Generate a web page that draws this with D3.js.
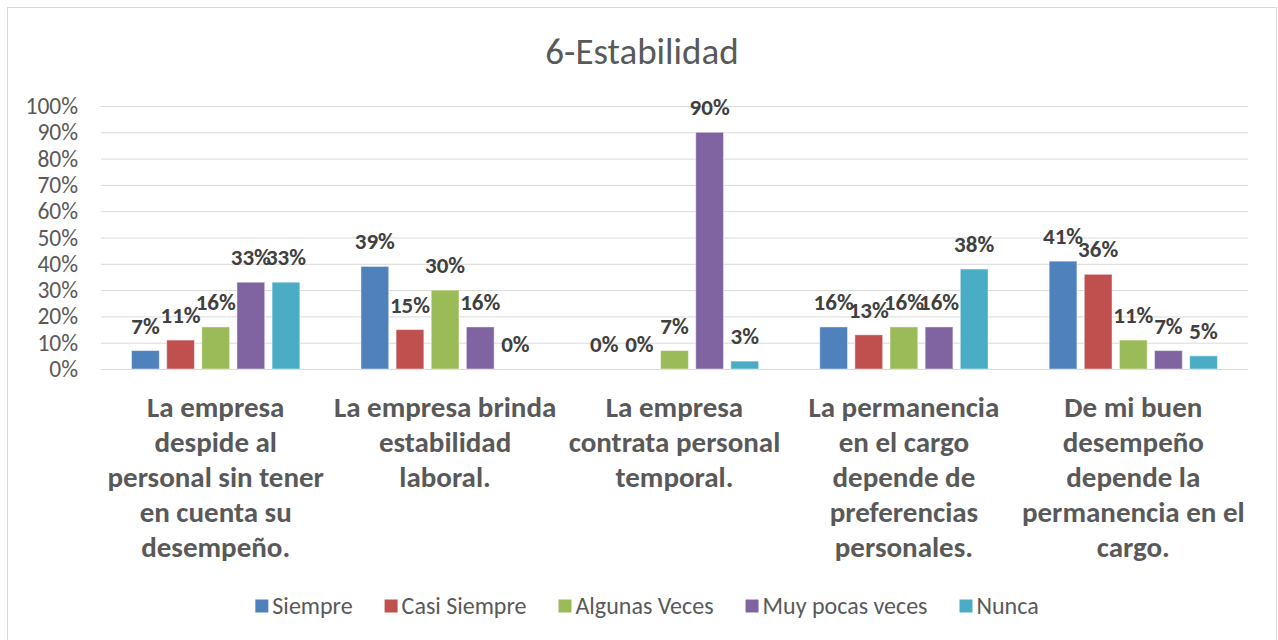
<!DOCTYPE html>
<html>
<head>
<meta charset="utf-8">
<script src="https://cdn.jsdelivr.net/npm/d3@7"></script>
<style>
  html, body { margin: 0; padding: 0; background: #fff; }
  svg { display: block; font-family: Carlito, Lato, "Open Sans", sans-serif; }
</style>
</head>
<body>
<svg id="chart" width="1278" height="640"></svg>
<script>
// Survey block 6: perceived job stability
const title = "6-Estabilidad";
const categories = [
  "La empresa\ndespide al\npersonal sin tener\nen cuenta su\ndesempeño.",
  "La empresa brinda\nestabilidad\nlaboral.",
  "La empresa\ncontrata personal\ntemporal.",
  "La permanencia\nen el cargo\ndepende de\npreferencias\npersonales.",
  "De mi buen\ndesempeño\ndepende la\npermanencia en el\ncargo."
];
const series = ["Siempre", "Casi Siempre", "Algunas Veces", "Muy pocas veces", "Nunca"];
const colors = ["#4F81BD", "#C0504D", "#9BBB59", "#8064A2", "#4BACC6"];
// percentages per category, one entry per series
const siempre       = [0.07, 0.39, 0.00, 0.16, 0.41];
const casiSiempre   = [0.11, 0.15, 0.00, 0.13, 0.36];
const algunasVeces  = [0.16, 0.30, 0.07, 0.16, 0.11];
const muyPocasVeces = [0.33, 0.16, 0.90, 0.16, 0.07];
const nunca         = [0.33, 0.00, 0.03, 0.38, 0.05];
const yTicks = [0, 0.1, 0.2, 0.3, 0.4, 0.5, 0.6, 0.7, 0.8, 0.9, 1.0];

const values = [siempre, casiSiempre, algunasVeces, muyPocasVeces, nunca];
const rows = categories.map((c, i) => ({
  cat: c,
  vals: series.map((s, j) => ({ series: s, idx: j, value: values[j][i] }))
}));

const svg = d3.select("#chart");
const plot = { left: 101, right: 1248, top: 106, bottom: 369 };

// outer frame
svg.append("rect")
  .attr("x", 7.5).attr("y", 7.5)
  .attr("width", 1269).attr("height", 660)
  .attr("fill", "#fff").attr("stroke", "#d9d9d9").attr("stroke-width", 1);

// title
svg.append("text")
  .attr("x", 642).attr("y", 64)
  .attr("text-anchor", "middle")
  .attr("font-size", 37)
  .attr("fill", "#595959")
  .text(title);

const y = d3.scaleLinear().domain([0, 1]).range([plot.bottom, plot.top]);
const x0 = d3.scaleBand().domain(categories).range([plot.left, plot.right]).padding(0);
const x1 = d3.scaleBand().domain(series).range([0, x0.bandwidth()])
  .paddingInner(0.21).paddingOuter(0.87);

// gridlines + y axis labels
const yAxis = d3.axisLeft(y).tickValues(yTicks).tickFormat(d3.format(".0%"))
  .tickSize(-(plot.right - plot.left)).tickPadding(23);
const gy = svg.append("g").attr("transform", `translate(${plot.left},0)`).call(yAxis);
gy.select(".domain").remove();
gy.selectAll(".tick line").attr("stroke", "#d9d9d9").attr("stroke-width", 1);
gy.selectAll(".tick text")
  .attr("font-size", 23.5).attr("fill", "#595959")
  .attr("font-family", "Carlito, Lato, sans-serif");

// bars
const groups = svg.append("g").selectAll("g").data(rows).join("g")
  .attr("transform", d => `translate(${x0(d.cat)},0)`);

groups.selectAll("rect").data(d => d.vals).join("rect")
  .attr("x", d => x1(d.series))
  .attr("y", d => y(d.value))
  .attr("width", x1.bandwidth())
  .attr("height", d => y(0) - y(d.value))
  .attr("fill", d => colors[d.idx])
  .attr("stroke", "#ffffff").attr("stroke-opacity", 0.45).attr("stroke-width", 1);

// value labels
groups.selectAll("text").data(d => d.vals).join("text")
  .attr("x", d => x1(d.series) + x1.bandwidth() / 2)
  .attr("y", d => y(d.value) - 17)
  .attr("text-anchor", "middle")
  .attr("font-size", 23).attr("font-weight", "bold")
  .attr("fill", "#404040")
  .text(d => d3.format(".0%")(d.value));

// category labels (wrapped lines)
const catG = svg.append("g");
categories.forEach(c => {
  const t = catG.append("text")
    .attr("x", x0(c) + x0.bandwidth() / 2)
    .attr("y", 417)
    .attr("text-anchor", "middle")
    .attr("font-size", 29).attr("font-weight", "bold")
    .attr("fill", "#595959");
  c.split("\n").forEach((line, i) => {
    t.append("tspan").attr("x", x0(c) + x0.bandwidth() / 2)
      .attr("y", 417 + i * 35).text(line);
  });
});

// legend, centred under the chart
const legend = svg.append("g");
const items = legend.selectAll("g").data(series).join("g");
items.append("rect")
  .attr("width", 13).attr("height", 13).attr("y", -6.5)
  .attr("fill", (d, i) => colors[i]);
items.append("text")
  .attr("x", 17).attr("y", 8)
  .attr("font-size", 24).attr("fill", "#595959")
  .text(d => d);
let cx = 0;
const gap = 32;
items.each(function() {
  const w = 17 + d3.select(this).select("text").node().getComputedTextLength();
  d3.select(this).attr("transform", `translate(${cx},0)`);
  cx += w + gap;
});
const total = cx - gap;
legend.attr("transform", `translate(${647 - total / 2},606)`);
</script>
</body>
</html>
